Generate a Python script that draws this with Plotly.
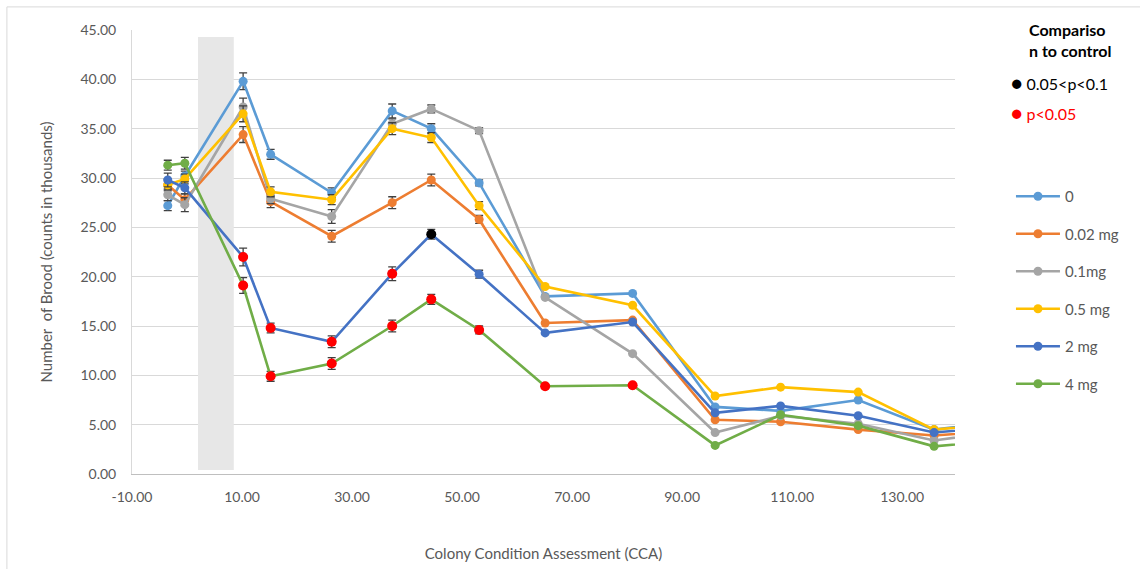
import plotly.graph_objects as go

# Colony condition assessment time points (x) and brood counts (thousands)
cca = [-3.5, -0.4, 10.2, 15.2, 26.3, 37.3, 44.4, 53.1, 65.1, 81.0, 96.0, 107.9, 122.0, 135.8, 148.0]

brood_0 = [27.2, 30.2, 39.8, 32.4, 28.5, 36.8, 35.0, 29.5, 18.0, 18.3, 6.8, 6.4, 7.5, 4.5, 5.3]
brood_002 = [29.3, 27.8, 34.4, 27.6, 24.1, 27.5, 29.8, 25.8, 15.3, 15.6, 5.5, 5.3, 4.5, 3.9, 4.4]
brood_01 = [28.3, 27.3, 37.2, 27.9, 26.1, 35.5, 37.0, 34.8, 17.9, 12.2, 4.2, 5.9, 5.1, 3.4, 4.3]
brood_05 = [29.3, 29.9, 36.5, 28.6, 27.8, 35.0, 34.1, 27.2, 19.0, 17.1, 7.9, 8.8, 8.3, 4.5, 5.1]
brood_2 = [29.8, 29.0, 22.0, 14.8, 13.4, 20.3, 24.3, 20.25, 14.3, 15.4, 6.2, 6.9, 5.9, 4.2, 4.8]
brood_4 = [31.3, 31.5, 19.1, 9.9, 11.2, 15.0, 17.7, 14.6, 8.9, 9.0, 2.9, 6.0, 4.9, 2.8, 3.4]

# Standard errors (only the first eight assessments carry error bars)
err_0 = [0.5, 0.5, 0.85, 0.5, 0.5, 0.7, 0.5, 0.3]
err_002 = [0.6, 0.6, 0.8, 0.6, 0.6, 0.6, 0.6, 0.4]
err_01 = [0.6, 0.7, 0.9, 0.5, 0.7, 0.5, 0.4, 0.3]
err_05 = [0.5, 0.5, 0.8, 0.5, 0.5, 0.6, 0.5, 0.4]
err_2 = [0.7, 0.6, 0.9, 0.5, 0.6, 0.7, 0.5, 0.4]
err_4 = [0.5, 0.6, 0.8, 0.5, 0.6, 0.6, 0.5, 0.4]

# Significance vs control per point: "" none, "m" 0.05<p<0.1, "s" p<0.05
sig_2 = ["", "", "s", "s", "s", "s", "m", "", "", "", "", "", "", "", ""]
sig_4 = ["", "", "s", "s", "s", "s", "s", "s", "s", "s", "", "", "", "", ""]

series_names = ["0", "0.02 mg", "0.1mg", "0.5 mg", "2 mg", "4 mg"]
series_values = [brood_0, brood_002, brood_01, brood_05, brood_2, brood_4]
series_errors = [err_0, err_002, err_01, err_05, err_2, err_4]
series_colors = ["#5B9BD5", "#ED7D31", "#A5A5A5", "#FFC000", "#4472C4", "#70AD47"]

# Exposure window shading (x span, y span)
shade_x = (2.0, 8.5)
shade_y = (0.4, 44.3)

x_ticks = [-10, 10, 30, 50, 70, 90, 110, 130]

FONT = "Lato"
GREY_TEXT = "#595959"

fig = go.Figure()

for name, vals, errs, col in zip(series_names, series_values, series_errors, series_colors):
    full_err = errs + [0] * (len(vals) - len(errs))
    fig.add_trace(go.Scatter(
        x=cca, y=vals, name=name, mode="lines+markers",
        line=dict(color=col, width=2.6),
        marker=dict(color=col, size=9),
        error_y=dict(type="data", array=full_err, visible=True,
                     color="#404040", thickness=1.3, width=4),
        legendgroup=name,
    ))

# Significance markers drawn over the dose lines
for vals, sig in [(brood_2, sig_2), (brood_4, sig_4)]:
    for flag, colr in [("s", "#FF0000"), ("m", "#000000")]:
        xs = [x for x, f in zip(cca, sig) if f == flag]
        ys = [v for v, f in zip(vals, sig) if f == flag]
        if xs:
            fig.add_trace(go.Scatter(x=xs, y=ys, mode="markers", showlegend=False,
                                     marker=dict(color=colr, size=10), hoverinfo="skip"))

fig.add_shape(type="rect", xref="x", yref="y", x0=shade_x[0], x1=shade_x[1],
              y0=shade_y[0], y1=shade_y[1], fillcolor="#E7E7E7", line=dict(width=0),
              layer="between")

# Chart-area frame
fig.add_shape(type="rect", xref="paper", yref="paper", x0=-0.152, x1=1.4, y0=-0.4, y1=1.052,
              line=dict(color="#D9D9D9", width=1), fillcolor="rgba(0,0,0,0)", layer="below")

# Significance key
fig.add_annotation(xref="paper", yref="paper", x=1.088, y=1.028, xanchor="left", yanchor="top",
                   text="<b>Compariso<br>n to control</b>", showarrow=False, align="left",
                   font=dict(family=FONT, size=16, color="#000000"))
fig.add_annotation(xref="paper", yref="paper", x=1.066, y=(474 - 82) / 444, xanchor="left", yanchor="middle",
                   text="<span style='font-size:19px'>●</span> 0.05&lt;p&lt;0.1", showarrow=False,
                   font=dict(family=FONT, size=16, color="#000000"))
fig.add_annotation(xref="paper", yref="paper", x=1.066, y=(474 - 112) / 444, xanchor="left", yanchor="middle",
                   text="<span style='font-size:19px'>●</span> p&lt;0.05", showarrow=False,
                   font=dict(family=FONT, size=16, color="#FF0000"))

fig.update_layout(
    width=1140, height=569,
    margin=dict(l=132, r=185, t=30, b=95),
    paper_bgcolor="white", plot_bgcolor="white",
    font=dict(family=FONT, size=14, color=GREY_TEXT),
    showlegend=True,
    legend=dict(x=1.068, y=(474 - 180) / 444, xanchor="left", yanchor="top",
                font=dict(family=FONT, size=15, color=GREY_TEXT),
                tracegroupgap=15, itemwidth=44, bgcolor="rgba(0,0,0,0)"),
    xaxis=dict(range=[-10, 139.6], tickvals=x_ticks,
               ticktext=[f"{v:.2f}" for v in x_ticks], automargin=False,
               showgrid=False, zeroline=False, showline=True, linecolor="#BFBFBF", linewidth=1,
               ticks="", ticklabelstandoff=10, tickfont=dict(size=14, color=GREY_TEXT),
               title=dict(text="Colony Condition Assessment (CCA)", standoff=44,
                          font=dict(size=15, color=GREY_TEXT))),
    yaxis=dict(range=[0, 45], dtick=5, tickformat=".2f", automargin=False,
               showgrid=True, gridcolor="#D9D9D9", gridwidth=1, zeroline=False,
               showline=True, linecolor="#D9D9D9", linewidth=1,
               ticks="", ticklabelstandoff=12, tickfont=dict(size=14, color=GREY_TEXT),
               title=dict(text="Number  of Brood (counts in thousands)", standoff=24,
                          font=dict(size=15, color=GREY_TEXT))),
)

fig.write_html("out.html")
